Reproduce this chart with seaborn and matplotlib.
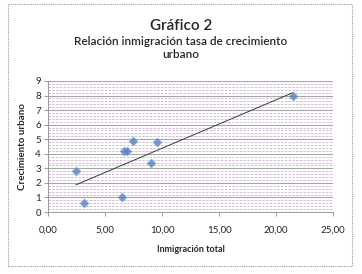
import matplotlib
matplotlib.use("Agg")
import matplotlib.pyplot as plt
import seaborn as sns
import numpy as np
import pandas as pd
from matplotlib.patches import Rectangle
from matplotlib.ticker import MultipleLocator, FuncFormatter

inmigracion = [2.46, 3.16, 6.5, 6.67, 6.93, 7.46, 9.0, 9.6, 21.5]
crecimiento = [2.8, 0.6, 1.0, 4.2, 4.2, 4.9, 3.35, 4.8, 8.0]
title = "Gráfico 2"
subtitle = "Relación inmigración tasa de crecimiento\nurbano"
xlabel = "Inmigración total"
ylabel = "Crecimiento urbano"

df = pd.DataFrame({"x": inmigracion, "y": crecimiento})

sns.set_theme(style="white")
plt.rcParams['font.family'] = ['Lato', 'DejaVu Sans']

fig = plt.figure(figsize=(3.62, 2.74), dpi=100)
ax = fig.add_axes([48/362, 1-212/274, (333-48)/362, (212-81)/274])

ax.set_xlim(0, 25)
ax.set_ylim(0, 9)
ax.yaxis.set_major_locator(MultipleLocator(1))
ax.yaxis.set_minor_locator(MultipleLocator(0.2))
ax.xaxis.set_major_locator(MultipleLocator(5))
ax.grid(which='major', axis='y', color='#a6a6a6', linewidth=0.8)
ax.grid(which='minor', axis='y', color='#c9b3cf', linewidth=0.6, linestyle=(0, (3, 1.5)))
ax.grid(which='major', axis='x', visible=False)
ax.set_axisbelow(True)

sns.regplot(data=df, x="x", y="y", ax=ax, ci=None, truncate=True, marker='D',
            scatter_kws=dict(s=20, color='#4f81bd', edgecolor='#7fa3d6', linewidths=0.5, zorder=3),
            line_kws=dict(color='#3a3a3a', linewidth=0.7, zorder=2))

ax.set_xlabel(xlabel, fontsize=6.5, fontweight='bold', labelpad=7)
ax.set_ylabel(ylabel, fontsize=7, fontweight='bold', labelpad=6)
ax.xaxis.set_major_formatter(FuncFormatter(lambda v, p: f"{v:.2f}".replace('.', ',')))
ax.tick_params(axis='both', which='major', labelsize=7, length=3, width=0.6, color='#8c8c8c', pad=2)
ax.tick_params(axis='y', which='minor', length=0)
ax.tick_params(axis='x', pad=7)
ax.tick_params(left=True, bottom=True)
for s in ['top', 'right']:
    ax.spines[s].set_visible(False)
for s in ['left', 'bottom']:
    ax.spines[s].set_color('#8c8c8c')
    ax.spines[s].set_linewidth(0.6)

fig.text(0.5, 1-26/274, title, ha='center', va='center', fontsize=11, fontweight='semibold')
fig.text(0.5, 1-48/274, subtitle, ha='center', va='center', fontsize=8.5, linespacing=1.25, fontweight='semibold')

fig.patches.append(Rectangle((8/362, 1-266/274), (352-8)/362, (266-4)/274,
                             transform=fig.transFigure, fill=False,
                             edgecolor='#9a9a9a', linewidth=0.8, linestyle=(0, (1, 1))))

fig.savefig("out.png", dpi=100)
